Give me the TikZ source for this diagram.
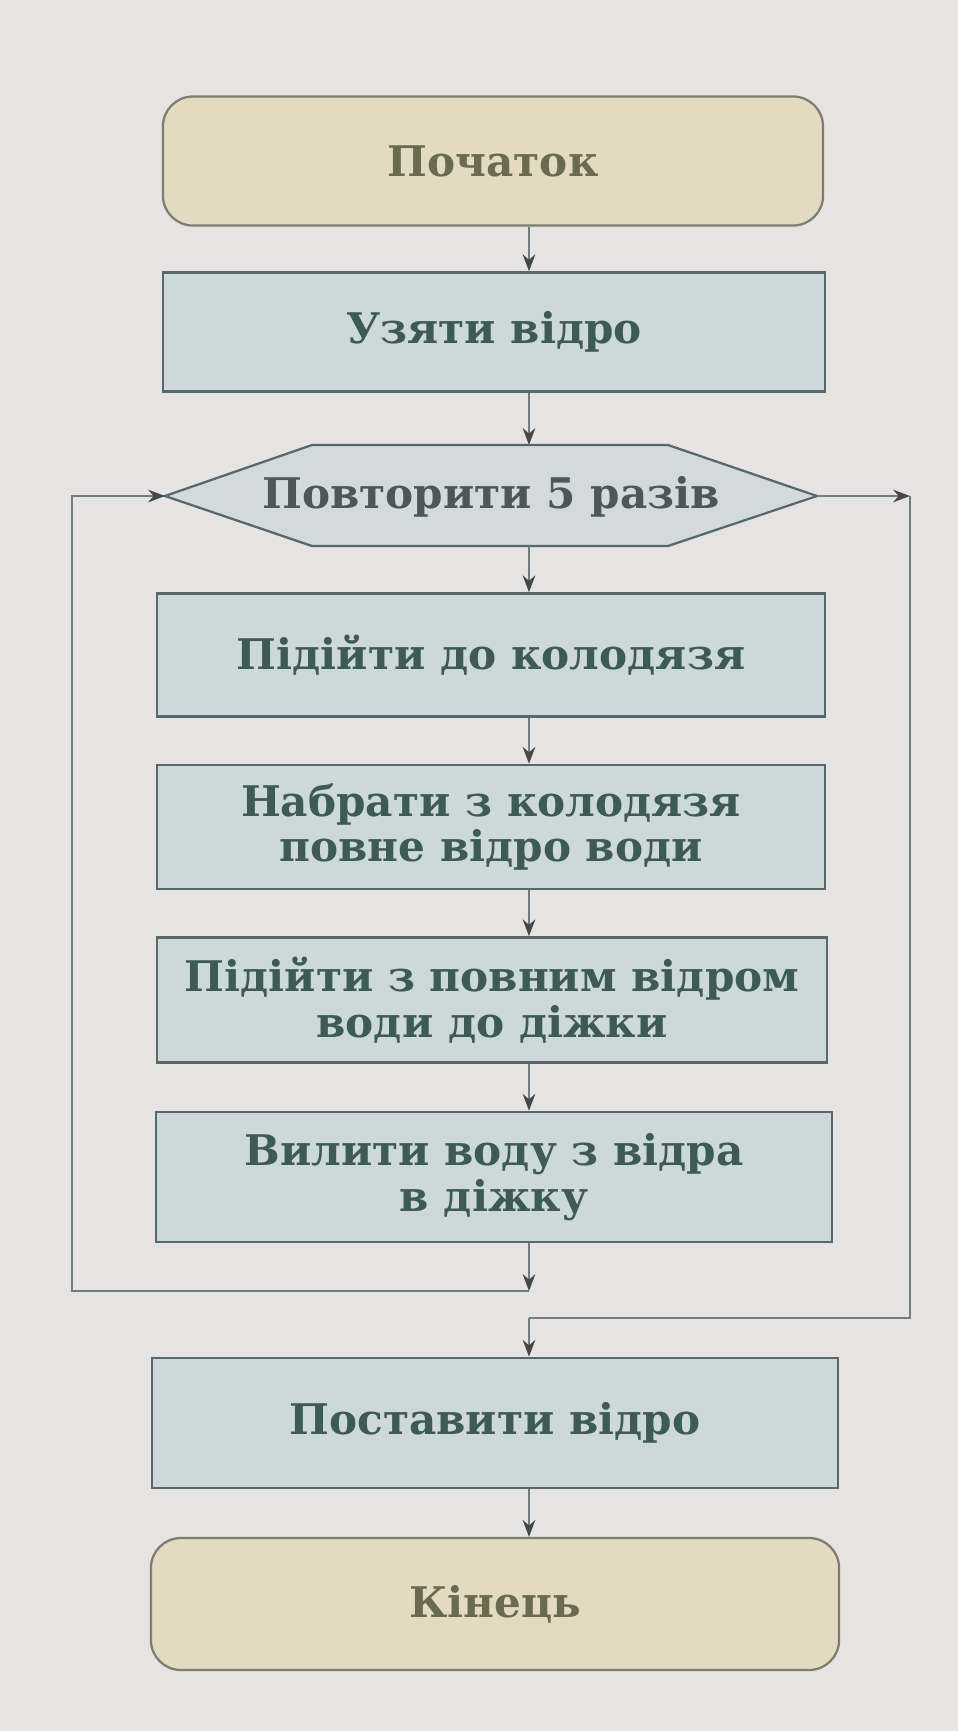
\documentclass[tikz,border=0pt]{standalone}
\usepackage{fontspec}
\setmainfont{DejaVu Serif}
\usetikzlibrary{arrows.meta}
\definecolor{bg}{HTML}{E6E3E3}
\definecolor{termfill}{HTML}{E2DBC1}
\definecolor{termline}{HTML}{7D7D70}
\definecolor{termtext}{HTML}{6A6A50}
\definecolor{procfill}{HTML}{CCD8DB}
\definecolor{procline}{HTML}{56686A}
\definecolor{proctext}{HTML}{3E5A58}
\definecolor{hexfill}{HTML}{D3DADB}
\definecolor{hextext}{HTML}{4E5757}
\definecolor{connline}{HTML}{6F7D7D}
\definecolor{arrowc}{HTML}{454848}
\begin{document}
\begin{tikzpicture}[x=0.025cm,y=-0.025cm,
  txt/.style={font=\bfseries\fontsize{30}{32.5}\selectfont, align=center},
  term/.style={txt, draw=termline, fill=termfill, rounded corners=0.75cm, line width=1.6pt, text=termtext, inner sep=0pt},
  proc/.style={txt, draw=procline, fill=procfill, line width=1.8pt, text=proctext, inner sep=0pt},
  hexshape/.style={draw=procline, fill=hexfill, line width=1.6pt},
  hexlabel/.style={txt, text=hextext, inner sep=0pt},
  wire/.style={line width=1.3pt, draw=connline},
  conn/.style={wire, -{Stealth[length=12pt,width=9pt,color=arrowc]}}
]
\fill[bg] (0,0) rectangle (958,1731);
\useasboundingbox (0,0) rectangle (958,1731);

\node[term, minimum width=16.5cm, minimum height=3.225cm] (start) at (493,161) {Початок};
\node[proc, minimum width=16.55cm, minimum height=2.975cm] (take) at (494,332) {Узяти відро};

\coordinate (hW) at (165,496);
\coordinate (hE) at (817,496);
\coordinate (hNW) at (312,445);
\coordinate (hNE) at (668,445);
\coordinate (hSW) at (312,546);
\coordinate (hSE) at (668,546);
\coordinate (hN) at (491,445);
\coordinate (hS) at (491,546);
\draw[hexshape] (hW) -- (hNW) -- (hNE) -- (hE) -- (hSE) -- (hSW) -- cycle;
\node[hexlabel] (hex) at (491,497) {Повторити 5 разів};

\node[proc, minimum width=16.7cm, minimum height=3.075cm] (go) at (491,655) {Підійти до колодязя};
\node[proc, minimum width=16.7cm, minimum height=3.1cm] (fill) at (491,827) {Набрати з колодязя\\повне відро води};
\node[proc, minimum width=16.75cm, minimum height=3.125cm] (carry) at (492,1000) {Підійти з повним відром\\води до діжки};
\node[proc, minimum width=16.9cm, minimum height=3.25cm] (pour) at (494,1177) {Вилити воду з відра\\в діжку};
\node[proc, minimum width=17.15cm, minimum height=3.25cm] (put) at (495,1423) {Поставити відро};
\node[term, minimum width=17.2cm, minimum height=3.3cm] (fin) at (495,1604) {Кінець};

\coordinate (ax) at (529,0);
\draw[conn] (start.south -| ax) -- (take.north -| ax);
\draw[conn] (take.south -| ax) -- (hN -| ax);
\draw[conn] (hS -| ax) -- (go.north -| ax);
\draw[conn] (go.south -| ax) -- (fill.north -| ax);
\draw[conn] (fill.south -| ax) -- (carry.north -| ax);
\draw[conn] (carry.south -| ax) -- (pour.north -| ax);

\coordinate (l1) at (529,1291);
\coordinate (l2) at (72,1291);
\coordinate (l3) at (72,496);
\draw[conn] (pour.south -| ax) -- (l1);
\draw[conn] (l1) -- (l2) -- (l3) -- (hW);

\coordinate (r1) at (910,496);
\coordinate (r2) at (910,1318);
\coordinate (r3) at (529,1318);
\draw[conn] (hE) -- (r1);
\draw[wire] (r1) -- (r2) -- (r3);
\draw[conn] (r3) -- (put.north -| ax);
\draw[conn] (put.south -| ax) -- (fin.north -| ax);
\end{tikzpicture}
\end{document}
